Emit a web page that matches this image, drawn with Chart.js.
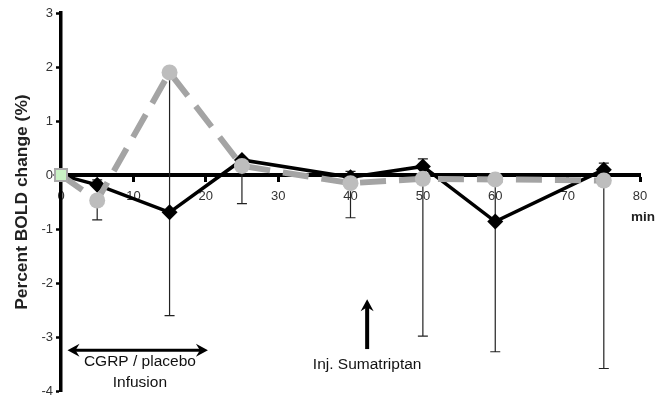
<!DOCTYPE html>
<html>
<head>
<meta charset="utf-8">
<script src="https://cdn.jsdelivr.net/npm/chart.js@4.4.1/dist/chart.umd.min.js"></script>
<style>
  html, body { margin: 0; padding: 0; background: #fff; }
  #wrap { width: 665px; height: 402px; }
</style>
</head>
<body>
<div id="wrap"><canvas id="c" width="665" height="402"></canvas></div>
<script>
// ---- data ----
const times = [0, 5, 15, 25, 40, 50, 60, 75];               // minutes
const grayValues = [0, -0.47, 1.9, 0.17, -0.15, -0.07, -0.08, -0.1];
const grayErrLow = [null, -0.83, -2.6, -0.53, -0.79, -2.98, -3.27, -3.58];   // lower end of error bar
const blackValues = [0, -0.18, -0.69, 0.28, -0.04, 0.16, -0.86, 0.1];
const blackErrHigh = [null, -0.09, null, null, 0.07, 0.3, null, 0.22];      // upper end of error bar
const xTicks = [0, 10, 20, 30, 40, 50, 60, 70, 80];
const yTicks = [-4, -3, -2, -1, 0, 1, 2, 3];
const yTitle = 'Percent BOLD change (%)';
const xUnit = 'min';
// annotations in data units
const infusionArrow = { from: 0.9, to: 20.3, y: -3.24 };
const infusionText = { x: 10.9, lines: ['CGRP / placebo', 'Infusion'], y: [-3.46, -3.84] };
const injArrow = { x: 42.3, from: -3.22, to: -2.3 };
const injText = { x: 42.3, y: -3.51, text: 'Inj. Sumatriptan' };
const unitPos = { x: 80.4, y: -0.78 };

const FONT = "'Liberation Sans', Arial, sans-serif";

const grayPts = times.map((t, i) => ({ x: t, y: grayValues[i] }));
const blackPts = times.map((t, i) => ({ x: t, y: blackValues[i] }));

const errorBars = {
  id: 'errorBars',
  beforeDatasetsDraw(chart) {
    const { ctx, scales: { x, y } } = chart;
    ctx.save();
    ctx.strokeStyle = '#222';
    ctx.lineWidth = 1.2;
    const draw = (t, v0, v1) => {
      if (v1 === null || v1 === undefined) return;
      const px = x.getPixelForValue(t);
      const p0 = y.getPixelForValue(v0), p1 = y.getPixelForValue(v1);
      ctx.beginPath();
      ctx.moveTo(px, p0); ctx.lineTo(px, p1);
      ctx.moveTo(px - 5, p1); ctx.lineTo(px + 5, p1);
      ctx.stroke();
    };
    times.forEach((t, i) => {
      draw(t, blackValues[i], blackErrHigh[i]);
      draw(t, grayValues[i], grayErrLow[i]);
    });
    ctx.restore();
  }
};

const annotations = {
  id: 'annotations',
  afterDraw(chart) {
    const { ctx, scales: { x, y } } = chart;
    ctx.save();
    ctx.strokeStyle = '#000';
    const head = (tipx, tipy, dx, dy) => {
      const L = 12, W = 6.5, N = 8;
      const bx = tipx - dx * L, by = tipy - dy * L;
      const nx = -dy, ny = dx;
      ctx.beginPath();
      ctx.moveTo(tipx, tipy);
      ctx.lineTo(bx + nx * W, by + ny * W);
      ctx.lineTo(tipx - dx * N, tipy - dy * N);
      ctx.lineTo(bx - nx * W, by - ny * W);
      ctx.closePath();
      ctx.fillStyle = '#000';
      ctx.fill();
    };
    // double-headed arrow
    const ay = y.getPixelForValue(infusionArrow.y);
    const ax0 = x.getPixelForValue(infusionArrow.from);
    const ax1 = x.getPixelForValue(infusionArrow.to);
    ctx.lineWidth = 3;
    ctx.beginPath(); ctx.moveTo(ax0 + 4, ay); ctx.lineTo(ax1 - 4, ay); ctx.stroke();
    head(ax0, ay, -1, 0);
    head(ax1, ay, 1, 0);
    // up arrow
    const ux = x.getPixelForValue(injArrow.x);
    const uy0 = y.getPixelForValue(injArrow.from);
    const uy1 = y.getPixelForValue(injArrow.to);
    ctx.lineWidth = 4;
    ctx.beginPath(); ctx.moveTo(ux, uy0); ctx.lineTo(ux, uy1 + 6); ctx.stroke();
    head(ux, uy1, 0, -1);
    // texts
    ctx.fillStyle = '#111';
    ctx.font = '15.5px ' + FONT;
    ctx.textAlign = 'center';
    ctx.textBaseline = 'middle';
    infusionText.lines.forEach((s, i) => {
      ctx.fillText(s, x.getPixelForValue(infusionText.x), y.getPixelForValue(infusionText.y[i]));
    });
    ctx.fillText(injText.text, x.getPixelForValue(injText.x), y.getPixelForValue(injText.y));
    ctx.font = 'bold 13.5px ' + FONT;
    ctx.fillStyle = '#222';
    ctx.fillText(xUnit, x.getPixelForValue(unitPos.x), y.getPixelForValue(unitPos.y));
    ctx.restore();
  }
};

new Chart(document.getElementById('c'), {
  type: 'line',
  data: {
    datasets: [
      {
        data: grayPts,
        borderColor: '#a4a4a4',
        borderWidth: 6,
        borderDash: [26, 13],
        tension: 0,
        clip: false,
        pointStyle: times.map((t, i) => i === 0 ? 'rect' : 'circle'),
        pointRadius: times.map((t, i) => i === 0 ? 8.5 : 8),
        pointBackgroundColor: times.map((t, i) => i === 0 ? '#c9f2c4' : '#bdbdbd'),
        pointBorderColor: times.map((t, i) => i === 0 ? '#a9a9a9' : '#bdbdbd'),
        pointBorderWidth: times.map((t, i) => i === 0 ? 2 : 0),
        order: 0
      },
      {
        data: blackPts,
        borderColor: '#000',
        borderWidth: 3.5,
        tension: 0,
        clip: false,
        pointStyle: 'rectRot',
        pointRadius: 8,
        pointBackgroundColor: '#000',
        pointBorderColor: '#000',
        pointBorderWidth: 0,
        order: 1
      }
    ]
  },
  options: {
    responsive: false,
    animation: false,
    devicePixelRatio: 1,
    layout: { padding: { top: 13, right: 25, bottom: 6, left: 0 } },
    plugins: { legend: { display: false }, tooltip: { enabled: false } },
    scales: {
      x: {
        type: 'linear',
        min: 0, max: 80,
        position: { y: 0 },
        afterBuildTicks: s => { s.ticks = xTicks.map(v => ({ value: v })); },
        ticks: { color: '#333', font: { size: 13, family: FONT }, padding: 9, maxRotation: 0 },
        grid: { drawOnChartArea: false, drawTicks: true, tickLength: 5, tickWidth: 3, tickColor: '#000' },
        border: { display: true, width: 4, color: '#000' }
      },
      y: {
        type: 'linear',
        min: -4, max: 3,
        position: 'left',
        afterBuildTicks: s => { s.ticks = yTicks.map(v => ({ value: v })); },
        afterFit: s => { s.width = 61; },
        ticks: { color: '#333', font: { size: 13, family: FONT }, padding: 3 },
        grid: { drawOnChartArea: false, drawTicks: true, tickLength: 5, tickWidth: 2.5, tickColor: '#000' },
        border: { display: true, width: 3.5, color: '#000' },
        title: { display: true, text: yTitle, color: '#222', font: { size: 17.4, weight: 'bold', family: FONT }, padding: { top: 12, bottom: 0 } }
      }
    }
  },
  plugins: [errorBars, annotations]
});
</script>
</body>
</html>
